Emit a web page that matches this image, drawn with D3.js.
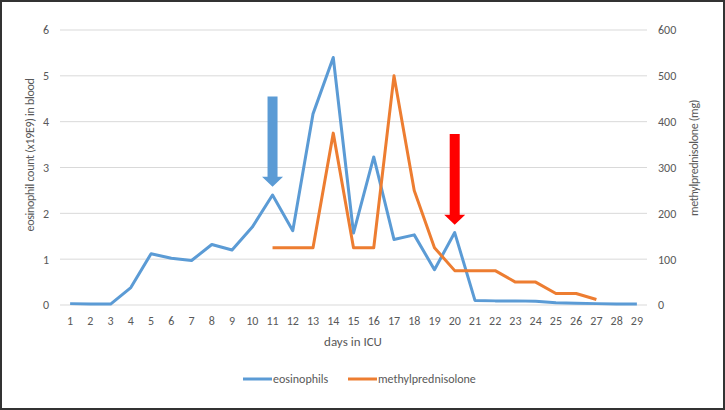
<!DOCTYPE html>
<html>
<head>
<meta charset="utf-8">
<script src="https://cdn.jsdelivr.net/npm/d3@7"></script>
<style>
  html, body { margin: 0; padding: 0; background: #fff; }
  svg text { font-family: Calibri, Carlito, Lato, "Open Sans", sans-serif; fill: #595959; }
</style>
</head>
<body>
<script>
// days on the x axis
var days = d3.range(1, 30);

// eosinophil count per day (left axis)
var eosinophils = [0.03, 0.02, 0.02, 0.38, 1.12, 1.02, 0.97, 1.32, 1.2, 1.7,
                   2.4, 1.62, 4.17, 5.4, 1.57, 3.23, 1.43, 1.53, 0.77, 1.58,
                   0.1, 0.09, 0.09, 0.08, 0.05, 0.04, 0.03, 0.02, 0.02];

// methylprednisolone dose (right axis), days 11..27
var mpDays = [11, 12, 13, 14, 15, 16, 17, 18, 19, 20, 21, 22, 23, 24, 25, 26, 27];
var mpDose = [125, 125, 125, 375, 125, 125, 500, 250, 125, 75, 75, 75, 50, 50, 25, 25, 12];

var leftTicks = [0, 1, 2, 3, 4, 5, 6];
var rightTicks = [0, 100, 200, 300, 400, 500, 600];

// arrows: day, top value, tip value (left axis units)
var arrows = [
  {day: 11, top: 4.55, tip: 2.58, color: "#5b9bd5"},
  {day: 20, top: 3.73, tip: 1.75, color: "#ff0000"}
];

var width = 725, height = 410;
var m = {left: 60, right: 647, top: 30, bottom: 305};

var svg = d3.select("body").append("svg")
    .attr("width", width)
    .attr("height", height);

svg.append("rect")
    .attr("x", 1).attr("y", 1)
    .attr("width", width - 2).attr("height", height - 2)
    .attr("fill", "#fff")
    .attr("stroke", "#333")
    .attr("stroke-width", 2);

var x = d3.scaleBand().domain(days).range([m.left, m.right]);
var xc = function(d) { return x(d) + x.bandwidth() / 2; };
var yL = d3.scaleLinear().domain([0, 6]).range([m.bottom, m.top]);
var yR = d3.scaleLinear().domain([0, 600]).range([m.bottom, m.top]);

// gridlines
svg.append("g")
  .selectAll("line")
  .data(leftTicks)
  .enter().append("line")
    .attr("x1", m.left).attr("x2", m.right)
    .attr("y1", function(d) { return yL(d); })
    .attr("y2", function(d) { return yL(d); })
    .attr("stroke", "#d9d9d9")
    .attr("stroke-width", 1);

// axes
var xAxis = svg.append("g")
    .attr("transform", "translate(0," + m.bottom + ")")
    .call(d3.axisBottom(x).tickSize(0).tickPadding(11));
var lAxis = svg.append("g")
    .attr("transform", "translate(" + (m.left - 11) + ",0)")
    .call(d3.axisLeft(yL).tickValues(leftTicks).tickFormat(d3.format("d")).tickSize(0).tickPadding(0));
var rAxis = svg.append("g")
    .attr("transform", "translate(" + (m.right + 11) + ",0)")
    .call(d3.axisRight(yR).tickValues(rightTicks).tickFormat(d3.format("d")).tickSize(0).tickPadding(0));

[xAxis, lAxis, rAxis].forEach(function(a) {
  a.select(".domain").remove();
  a.selectAll("text").style("font-size", "12px").attr("fill", "#595959");
});

// axis titles
svg.append("text")
    .attr("x", 353).attr("y", 346)
    .attr("text-anchor", "middle")
    .style("font-size", "13px")
    .text("days in ICU");

svg.append("text")
    .attr("transform", "translate(34,155) rotate(-90)")
    .attr("text-anchor", "middle")
    .style("font-size", "12px")
    .style("letter-spacing", "-0.3px")
    .text("eosinophil count (x19E9) in blood");

svg.append("text")
    .attr("transform", "translate(698,158) rotate(-90)")
    .attr("text-anchor", "middle")
    .style("font-size", "12px")
    .style("letter-spacing", "-0.3px")
    .text("methylprednisolone (mg)");

// lines
var eoLine = d3.line()
    .x(function(d, i) { return xc(days[i]); })
    .y(function(d) { return yL(d); });

var mpLine = d3.line()
    .x(function(d, i) { return xc(mpDays[i]); })
    .y(function(d) { return yR(d); });

svg.append("path")
    .datum(eosinophils)
    .attr("d", eoLine)
    .attr("fill", "none")
    .attr("stroke", "#5b9bd5")
    .attr("stroke-width", 3)
    .attr("stroke-linejoin", "round");

svg.append("path")
    .datum(mpDose)
    .attr("d", mpLine)
    .attr("fill", "none")
    .attr("stroke", "#ed7d31")
    .attr("stroke-width", 3)
    .attr("stroke-linejoin", "round");

// annotation arrows
svg.append("g")
  .selectAll("path")
  .data(arrows)
  .enter().append("path")
    .attr("fill", function(d) { return d.color; })
    .attr("d", function(d) {
      var cx = xc(d.day), y0 = yL(d.top), y1 = yL(d.tip);
      var headH = 10, sw = 5, hw = 10.5;
      return "M" + (cx - sw) + "," + y0 + "H" + (cx + sw) + "V" + (y1 - headH) +
        "H" + (cx + hw) + "L" + cx + "," + y1 + "L" + (cx - hw) + "," + (y1 - headH) +
        "H" + (cx - sw) + "Z";
    });

// legend
var legend = [
  {name: "eosinophils", color: "#5b9bd5", x: 243},
  {name: "methylprednisolone", color: "#ed7d31", x: 348}
];
var lg = svg.append("g").selectAll("g")
  .data(legend)
  .enter().append("g")
    .attr("transform", function(d) { return "translate(" + d.x + ",379)"; });
lg.append("line")
    .attr("x1", 0).attr("x2", 29)
    .attr("stroke", function(d) { return d.color; })
    .attr("stroke-width", 3);
lg.append("text")
    .attr("x", 30).attr("dy", "0.35em")
    .style("font-size", "12px")
    .text(function(d) { return d.name; });
</script>
</body>
</html>
